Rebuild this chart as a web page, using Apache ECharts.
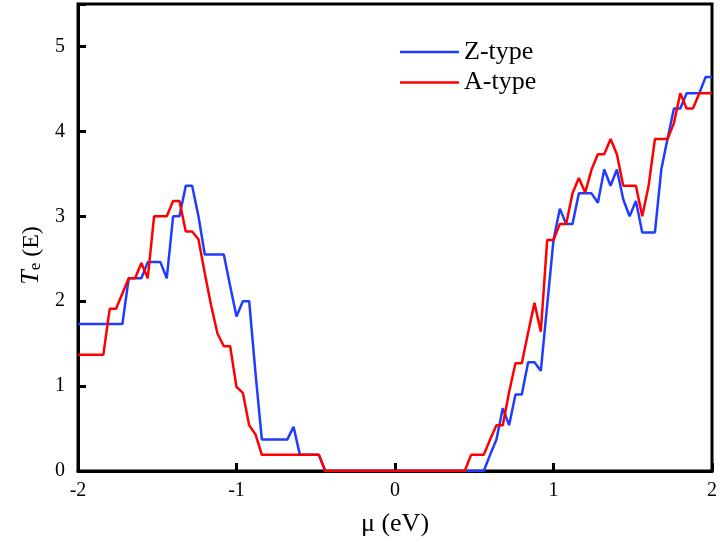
<!DOCTYPE html>
<html>
<head>
<meta charset="utf-8">
<script src="https://cdn.jsdelivr.net/npm/echarts@6/dist/echarts.min.js"></script>
<style>
  html, body { margin: 0; padding: 0; background: #fff; }
  #chart { width: 720px; height: 549px; }
</style>
</head>
<body>
<div id="chart"></div>
<script>
// Chemical potential grid (eV), step 0.04 from -2 to 2
const mu = [];
for (let k = 0; k <= 100; k++) mu.push(+(-2 + 0.04 * k).toFixed(2));

// Transmission for the Z-type configuration
const zType = [
  1.73, 1.73, 1.73, 1.73, 1.73, 1.73, 1.73, 1.73, 2.27, 2.27,
  2.27, 2.46, 2.46, 2.46, 2.27, 3.00, 3.00, 3.36, 3.36, 3.00,
  2.55, 2.55, 2.55, 2.55, 2.18, 1.82, 2.00, 2.00, 1.15, 0.37,
  0.37, 0.37, 0.37, 0.37, 0.52, 0.19, 0.19, 0.19, 0.19, 0.00,
  0.00, 0.00, 0.00, 0.00, 0.00, 0.00, 0.00, 0.00, 0.00, 0.00,
  0.00, 0.00, 0.00, 0.00, 0.00, 0.00, 0.00, 0.00, 0.00, 0.00,
  0.00, 0.00, 0.00, 0.00, 0.00, 0.19, 0.37, 0.74, 0.54, 0.90,
  0.90, 1.28, 1.28, 1.18, 1.95, 2.72, 3.09, 2.91, 2.91, 3.27,
  3.27, 3.27, 3.16, 3.55, 3.36, 3.55, 3.20, 3.00, 3.18, 2.81,
  2.81, 2.81, 3.55, 3.92, 4.27, 4.27, 4.45, 4.45, 4.45, 4.64,
  4.64
];

// Transmission for the A-type configuration
const aType = [
  1.37, 1.37, 1.37, 1.37, 1.37, 1.91, 1.91, 2.09, 2.27, 2.27,
  2.45, 2.27, 3.00, 3.00, 3.00, 3.18, 3.18, 2.82, 2.82, 2.73,
  2.33, 1.95, 1.62, 1.47, 1.47, 0.99, 0.92, 0.54, 0.43, 0.19,
  0.19, 0.19, 0.19, 0.19, 0.19, 0.19, 0.19, 0.19, 0.19, 0.00,
  0.00, 0.00, 0.00, 0.00, 0.00, 0.00, 0.00, 0.00, 0.00, 0.00,
  0.00, 0.00, 0.00, 0.00, 0.00, 0.00, 0.00, 0.00, 0.00, 0.00,
  0.00, 0.00, 0.19, 0.19, 0.19, 0.37, 0.54, 0.54, 0.93, 1.27,
  1.27, 1.63, 1.98, 1.64, 2.72, 2.72, 2.91, 2.91, 3.27, 3.45,
  3.28, 3.55, 3.73, 3.73, 3.91, 3.73, 3.36, 3.36, 3.36, 3.00,
  3.36, 3.91, 3.91, 3.91, 4.10, 4.45, 4.27, 4.27, 4.45, 4.45,
  4.45
];

const seriesNames = ['Z-type', 'A-type'];
const xTicks = [-2, -1, 0, 1, 2];
const yTicks = [0, 1, 2, 3, 4, 5];

const serif = '"Liberation Serif", "DejaVu Serif", serif';
const pairs = (ys) => mu.map((x, i) => [x, ys[i]]);

const chart = echarts.init(document.getElementById('chart'), null, { renderer: 'canvas' });

chart.setOption({
  animation: false,
  backgroundColor: '#fff',
  grid: {
    left: 78, right: 7, top: 4, bottom: 78,
    show: true, borderColor: '#000', borderWidth: 3, backgroundColor: 'transparent'
  },
  legend: {
    orient: 'vertical',
    left: 400,
    top: 39,
    padding: 0,
    itemWidth: 59,
    itemHeight: 26,
    itemGap: 4.4,
    icon: 'path://M0,12 L59,12 L59,14.5 L0,14.5 Z',
    textStyle: { fontFamily: serif, fontSize: 26, lineHeight: 26, color: '#000', padding: [0, 0, 0, 0] },
    data: seriesNames
  },
  xAxis: {
    type: 'value',
    min: xTicks[0], max: xTicks[xTicks.length - 1], interval: 1,
    name: 'μ (eV)',
    nameLocation: 'middle',
    nameGap: 40,
    nameTextStyle: { fontFamily: serif, fontSize: 26, color: '#000' },
    axisLine: { show: true, onZero: false, lineStyle: { color: '#000', width: 3 } },
    axisTick: { show: true, inside: true, length: 8, lineStyle: { color: '#000', width: 3 } },
    axisLabel: {
      fontFamily: serif, fontSize: 20, color: '#000', margin: 10,
      formatter: (v) => String(v)
    },
    splitLine: { show: false }
  },
  yAxis: {
    type: 'value',
    min: yTicks[0], max: 5.5, interval: 1,
    name: '{t|T}{s|e}{n| (E)}',
    nameLocation: 'middle',
    nameGap: 34,
    nameRotate: 90,
    nameTextStyle: {
      color: '#000',
      padding: [0, 36, 0, 0],
      rich: {
        t: { fontFamily: serif, fontSize: 26, fontStyle: 'italic', color: '#000', verticalAlign: 'bottom', lineHeight: 28 },
        s: { fontFamily: serif, fontSize: 17, color: '#000', verticalAlign: 'bottom', lineHeight: 20 },
        n: { fontFamily: serif, fontSize: 24, color: '#000', verticalAlign: 'bottom', lineHeight: 28 }
      }
    },
    axisLine: { show: true, onZero: false, lineStyle: { color: '#000', width: 3 } },
    axisTick: { show: true, inside: true, length: 8, lineStyle: { color: '#000', width: 3 } },
    axisLabel: {
      fontFamily: serif, fontSize: 20, color: '#000', margin: 13,
      formatter: (v) => (yTicks.indexOf(v) >= 0 ? String(v) : '')
    },
    splitLine: { show: false }
  },
  series: [
    {
      name: seriesNames[0],
      type: 'line',
      data: pairs(zType),
      symbol: 'none',
      color: '#1f3cff',
      lineStyle: { color: '#1f3cff', width: 2.5 },
      z: 2
    },
    {
      name: seriesNames[1],
      type: 'line',
      data: pairs(aType),
      symbol: 'none',
      color: '#ff0000',
      lineStyle: { color: '#ff0000', width: 2.5 },
      z: 3
    }
  ]
});
</script>
</body>
</html>
